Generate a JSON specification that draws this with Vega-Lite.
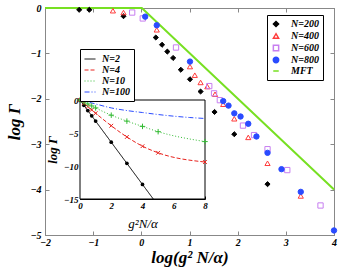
{
  "$schema": "https://vega.github.io/schema/vega-lite/v6.json",
  "width": 289,
  "height": 227,
  "autosize": "none",
  "padding": {"left": 45, "top": 8, "right": 7, "bottom": 38},
  "background": "white",
  "config": {
    "view": {"stroke": "#888", "strokeWidth": 1},
    "font": "Liberation Serif",
    "axis": {
      "grid": false,
      "labelFont": "Liberation Serif",
      "labelFontStyle": "italic",
      "labelFontWeight": "bold",
      "labelFontSize": 10,
      "labelColor": "black",
      "labelFlush": false,
      "labelOverlap": false,
      "titleFont": "Liberation Serif",
      "titleFontStyle": "italic",
      "titleFontWeight": "bold",
      "titleColor": "black"
    }
  },
  "datasets": {
    "main": [
      {"s": "N=200", "x": -1.29, "y": -0.04},
      {"s": "N=200", "x": -1.08, "y": -0.04},
      {"s": "N=200", "x": -0.37, "y": -0.18},
      {"s": "N=200", "x": 0.30, "y": -0.65},
      {"s": "N=200", "x": 0.43, "y": -0.81},
      {"s": "N=200", "x": 0.54, "y": -0.96},
      {"s": "N=200", "x": 0.66, "y": -1.10},
      {"s": "N=200", "x": 0.82, "y": -1.36},
      {"s": "N=200", "x": 1.01, "y": -1.57},
      {"s": "N=200", "x": 1.23, "y": -1.84},
      {"s": "N=200", "x": 1.52, "y": -2.29},
      {"s": "N=200", "x": 1.93, "y": -2.78},
      {"s": "N=200", "x": 2.62, "y": -3.88},
      {"s": "N=400", "x": -0.59, "y": -0.06},
      {"s": "N=400", "x": -0.37, "y": -0.10},
      {"s": "N=400", "x": 0.32, "y": -0.48},
      {"s": "N=400", "x": 1.01, "y": -1.29},
      {"s": "N=400", "x": 1.11, "y": -1.48},
      {"s": "N=400", "x": 1.23, "y": -1.64},
      {"s": "N=400", "x": 1.37, "y": -1.73},
      {"s": "N=400", "x": 1.53, "y": -1.90},
      {"s": "N=400", "x": 1.70, "y": -2.12},
      {"s": "N=400", "x": 1.93, "y": -2.44},
      {"s": "N=400", "x": 2.22, "y": -2.85},
      {"s": "N=400", "x": 2.62, "y": -3.42},
      {"s": "N=400", "x": 3.31, "y": -4.14},
      {"s": "N=600", "x": -0.19, "y": -0.10},
      {"s": "N=600", "x": 0.03, "y": -0.23},
      {"s": "N=600", "x": 0.72, "y": -0.87},
      {"s": "N=600", "x": 1.41, "y": -1.72},
      {"s": "N=600", "x": 1.51, "y": -1.88},
      {"s": "N=600", "x": 1.63, "y": -2.03},
      {"s": "N=600", "x": 2.11, "y": -2.59},
      {"s": "N=600", "x": 2.34, "y": -2.80},
      {"s": "N=600", "x": 2.62, "y": -3.11},
      {"s": "N=600", "x": 3.03, "y": -3.57},
      {"s": "N=600", "x": 3.72, "y": -4.35},
      {"s": "N=800", "x": 0.08, "y": -0.19},
      {"s": "N=800", "x": 0.32, "y": -0.38},
      {"s": "N=800", "x": 1.01, "y": -1.18},
      {"s": "N=800", "x": 1.70, "y": -2.05},
      {"s": "N=800", "x": 1.81, "y": -2.15},
      {"s": "N=800", "x": 1.93, "y": -2.32},
      {"s": "N=800", "x": 2.06, "y": -2.39},
      {"s": "N=800", "x": 2.22, "y": -2.55},
      {"s": "N=800", "x": 2.39, "y": -2.83},
      {"s": "N=800", "x": 2.62, "y": -3.19},
      {"s": "N=800", "x": 2.91, "y": -3.55},
      {"s": "N=800", "x": 3.31, "y": -4.05},
      {"s": "N=800", "x": 4.0, "y": -4.90}
    ],
    "mft": [
      {"s": "MFT", "x": -2, "y": 0},
      {"s": "MFT", "x": 0.01, "y": 0},
      {"s": "MFT", "x": 4, "y": -4.0}
    ],
    "inset": [
      {"n": "N=2", "x": 0, "y": 0, "m": true},
      {"n": "N=2", "x": 0.25, "y": -0.8, "m": true},
      {"n": "N=2", "x": 0.5, "y": -1.6, "m": true},
      {"n": "N=2", "x": 0.75, "y": -2.4, "m": true},
      {"n": "N=2", "x": 1, "y": -3.2, "m": true},
      {"n": "N=2", "x": 2, "y": -6.4, "m": true},
      {"n": "N=2", "x": 3, "y": -9.6, "m": true},
      {"n": "N=2", "x": 4, "y": -12.8, "m": true},
      {"n": "N=2", "x": 4.69, "y": -15, "m": false},
      {"n": "N=4", "x": 0, "y": 0, "m": true},
      {"n": "N=4", "x": 0.25, "y": -0.5, "m": true},
      {"n": "N=4", "x": 0.5, "y": -1.0, "m": true},
      {"n": "N=4", "x": 0.75, "y": -1.5, "m": true},
      {"n": "N=4", "x": 1, "y": -2.0, "m": true},
      {"n": "N=4", "x": 2, "y": -3.9, "m": true},
      {"n": "N=4", "x": 3, "y": -5.6, "m": true},
      {"n": "N=4", "x": 4, "y": -7.0, "m": true},
      {"n": "N=4", "x": 5, "y": -8.0, "m": true},
      {"n": "N=4", "x": 8, "y": -9.4, "m": true},
      {"n": "N=10", "x": 0, "y": 0, "m": true},
      {"n": "N=10", "x": 0.25, "y": -0.3, "m": true},
      {"n": "N=10", "x": 0.5, "y": -0.6, "m": true},
      {"n": "N=10", "x": 0.75, "y": -0.9, "m": true},
      {"n": "N=10", "x": 1, "y": -1.2, "m": true},
      {"n": "N=10", "x": 2, "y": -2.3, "m": true},
      {"n": "N=10", "x": 3, "y": -3.2, "m": true},
      {"n": "N=10", "x": 4, "y": -4.0, "m": true},
      {"n": "N=10", "x": 5, "y": -4.8, "m": true},
      {"n": "N=10", "x": 8, "y": -6.3, "m": true},
      {"n": "N=100", "x": 0, "y": 0, "m": false},
      {"n": "N=100", "x": 1, "y": -0.6, "m": false},
      {"n": "N=100", "x": 2, "y": -1.2, "m": false},
      {"n": "N=100", "x": 3, "y": -1.6, "m": false},
      {"n": "N=100", "x": 4, "y": -1.9, "m": false},
      {"n": "N=100", "x": 5, "y": -2.2, "m": false},
      {"n": "N=100", "x": 6, "y": -2.45, "m": false},
      {"n": "N=100", "x": 7, "y": -2.65, "m": false},
      {"n": "N=100", "x": 8, "y": -2.8, "m": false}
    ]
  },
  "layer": [
    {
      "layer": [
        {
          "data": {"name": "mft"},
          "mark": {"type": "line", "strokeWidth": 2},
          "encoding": {
            "x": {"field": "x", "type": "quantitative"},
            "y": {"field": "y", "type": "quantitative"},
            "stroke": {"field": "s", "type": "nominal"}
          }
        },
        {
          "data": {"name": "main"},
          "mark": {"type": "point", "opacity": 1, "strokeWidth": 1},
          "encoding": {
            "x": {"field": "x", "type": "quantitative"},
            "y": {"field": "y", "type": "quantitative"},
            "stroke": {"field": "s", "type": "nominal"},
            "fill": {"field": "s", "type": "nominal",
              "scale": {"domain": ["N=200", "N=400", "N=600", "N=800", "MFT"],
                        "range": ["black", "transparent", "transparent", "#2a4bff", "transparent"]}},
            "shape": {"field": "s", "type": "nominal",
              "scale": {"domain": ["N=200", "N=400", "N=600", "N=800", "MFT"],
                        "range": ["diamond", "triangle-up", "square", "circle", "stroke"]}},
            "size": {"field": "s", "type": "nominal",
              "scale": {"domain": ["N=200", "N=400", "N=600", "N=800", "MFT"],
                        "range": [26, 30, 22, 32, 100]}}
          }
        }
      ],
      "encoding": {
        "x": {"field": "x", "type": "quantitative",
          "scale": {"domain": [-2, 4], "nice": false, "zero": false},
          "axis": {"orient": "bottom", "values": [-2, -1, 0, 1, 2, 3, 4], "domainColor": "#888", "tickColor": "#888",
                   "tickSize": -4, "labelPadding": 6, "title": "log(g² N/α)", "titleFontSize": 17, "titlePadding": 2}},
        "y": {"field": "y", "type": "quantitative",
          "scale": {"domain": [-5, 0], "nice": false, "zero": false},
          "axis": {"orient": "left", "values": [0, -1, -2, -3, -4, -5], "domainColor": "#888", "tickColor": "#888",
                   "tickSize": -4, "labelPadding": 8, "title": "log Γ", "titleFontSize": 17, "titlePadding": 6}},
        "stroke": {"field": "s", "type": "nominal",
          "scale": {"domain": ["N=200", "N=400", "N=600", "N=800", "MFT"],
                    "range": ["black", "#ff3b3b", "#c77ef0", "#2a4bff", "#77e022"]},
          "legend": {"orient": "none", "legendX": 222, "legendY": 7, "title": null,
                     "strokeColor": "black", "fillColor": "white", "padding": 4,
                     "labelFont": "Liberation Serif", "labelFontStyle": "italic", "labelFontWeight": "bold",
                     "labelFontSize": 10, "labelColor": "black", "rowPadding": 0, "labelOffset": 10,
                     "symbolStrokeWidth": 1.5}}
      }
    },
    {
      "layer": [
        {
          "data": {"values": [{"k": 1}]},
          "mark": {"type": "rect", "fill": "white", "stroke": "black", "strokeWidth": 1},
          "encoding": {
            "x": {"datum": 0, "type": "quantitative",
              "scale": {"domain": [0, 8], "nice": false, "zero": false, "range": [35, 160]},
              "axis": {"orient": "bottom", "values": [0, 2, 4, 6, 8], "offset": -36, "domainColor": "black", "tickColor": "black",
                       "tickSize": -3, "labelPadding": 5, "labelFontSize": 9,
                       "title": "g²N/α", "titleFontSize": 13, "titleFontWeight": "normal", "titlePadding": 7}},
            "x2": {"datum": 8},
            "y": {"datum": -15, "type": "quantitative",
              "scale": {"domain": [-15, 0], "nice": false, "zero": false, "range": [191, 92]},
              "axis": {"orient": "left", "values": [0, -5, -10, -15], "offset": -35, "domainColor": "black", "tickColor": "black",
                       "tickSize": -3, "labelPadding": 5, "labelFontSize": 9,
                       "title": "log Γ", "titleFontSize": 13, "titlePadding": 4}},
            "y2": {"datum": 0}
          }
        },
        {
          "data": {"name": "inset"},
          "mark": {"type": "line", "strokeWidth": 1, "interpolate": "monotone"},
          "encoding": {
            "x": {"field": "x", "type": "quantitative"},
            "y": {"field": "y", "type": "quantitative"},
            "color": {"field": "n", "type": "nominal",
              "scale": {"domain": ["N=2", "N=4", "N=10", "N=100"],
                        "range": ["black", "#e8231e", "#33bb33", "#2a4bff"]},
              "legend": {"orient": "none", "legendX": 35, "legendY": 41, "title": null,
                         "strokeColor": "black", "fillColor": "white", "padding": 4,
                         "symbolType": "stroke", "symbolSize": 120, "symbolStrokeWidth": 1,
                         "labelFont": "Liberation Serif", "labelFontStyle": "italic", "labelFontWeight": "bold",
                         "labelFontSize": 10, "labelColor": "black", "rowPadding": 0, "labelOffset": 6}},
            "strokeDash": {"field": "n", "type": "nominal",
              "scale": {"domain": ["N=2", "N=4", "N=10", "N=100"],
                        "range": [[1, 0], [4, 2], [1, 2], [5, 2, 1, 2]]}}
          }
        },
        {
          "data": {"name": "inset"},
          "transform": [{"filter": "datum.m && datum.n == 'N=2'"}],
          "mark": {"type": "circle", "color": "black", "size": 14, "opacity": 1},
          "encoding": {
            "x": {"field": "x", "type": "quantitative"},
            "y": {"field": "y", "type": "quantitative"}
          }
        },
        {
          "data": {"name": "inset"},
          "transform": [{"filter": "datum.m && datum.n == 'N=4'"}],
          "mark": {"type": "point", "shape": "M-1,-1L1,1M-1,1L1,-1", "stroke": "#e8231e", "strokeWidth": 1, "size": 14, "opacity": 1},
          "encoding": {
            "x": {"field": "x", "type": "quantitative"},
            "y": {"field": "y", "type": "quantitative"}
          }
        },
        {
          "data": {"name": "inset"},
          "transform": [{"filter": "datum.m && datum.n == 'N=10'"}],
          "mark": {"type": "point", "shape": "M-1,0L1,0M0,-1L0,1", "stroke": "#33bb33", "strokeWidth": 1, "size": 30, "opacity": 1},
          "encoding": {
            "x": {"field": "x", "type": "quantitative"},
            "y": {"field": "y", "type": "quantitative"}
          }
        }
      ]
    },
    {
      "data": {"values": [{"k": 1}]},
      "mark": {"type": "point", "opacity": 0},
      "encoding": {
        "x": {"datum": 0, "type": "quantitative",
          "scale": {"domain": [-2, 4], "nice": false, "zero": false},
          "axis": {"orient": "top", "values": [-2, -1, 0, 1, 2, 3, 4], "labels": false, "domainColor": "#888",
                   "tickColor": "#888", "tickSize": -4, "title": null}},
        "y": {"datum": 0, "type": "quantitative",
          "scale": {"domain": [-5, 0], "nice": false, "zero": false},
          "axis": {"orient": "right", "values": [0, -1, -2, -3, -4, -5], "labels": false, "domainColor": "#888",
                   "tickColor": "#888", "tickSize": -4, "title": null}}
      }
    }
  ],
  "resolve": {
    "scale": {"x": "independent", "y": "independent", "color": "independent", "stroke": "independent",
              "strokeDash": "independent", "fill": "independent", "shape": "independent", "size": "independent"}
  }
}
